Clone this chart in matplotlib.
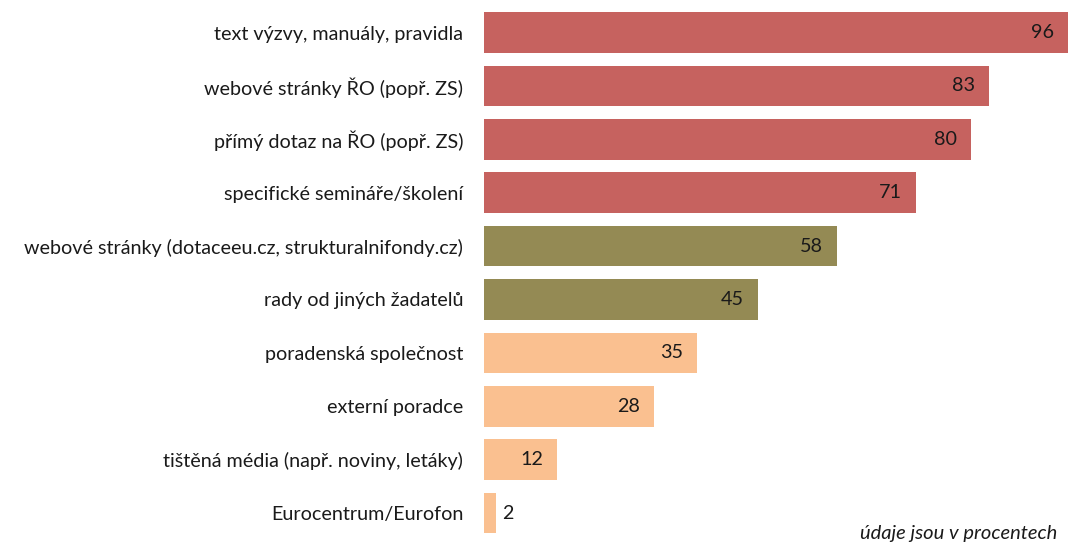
import matplotlib
matplotlib.use("Agg")
import matplotlib.pyplot as plt

categories = [
    "text výzvy, manuály, pravidla",
    "webové stránky ŘO (popř. ZS)",
    "přímý dotaz na ŘO (popř. ZS)",
    "specifické semináře/školení",
    "webové stránky (dotaceeu.cz, strukturalnifondy.cz)",
    "rady od jiných žadatelů",
    "poradenská společnost",
    "externí poradce",
    "tištěná média (např. noviny, letáky)",
    "Eurocentrum/Eurofon",
]
values = [96, 83, 80, 71, 58, 45, 35, 28, 12, 2]
groups = ["red", "red", "red", "red", "olive", "olive", "peach", "peach", "peach", "peach"]
group_colors = {"red": "#C6625F", "olive": "#948A54", "peach": "#FAC090"}
note = "údaje jsou v procentech"

plt.rcParams["font.family"] = ["Lato", "DejaVu Sans"]

fig = plt.figure(figsize=(10.68, 5.44), dpi=100)
ax = fig.add_axes([484 / 1068, 0, 1 - 484 / 1068, 1])

ypos = list(range(len(categories)))
colors = [group_colors[g] for g in groups]
ax.barh(ypos, values, height=0.76, color=colors)

ax.set_xlim(0, 96)
ax.set_ylim(9.58, -0.61)
ax.set_yticks(ypos)
ax.set_yticklabels(categories, fontsize=14.2, color="#1a1a1a")
ax.tick_params(axis="y", length=0, pad=15)
ax.set_xticks([])
for s in ax.spines.values():
    s.set_visible(False)

for y, v in zip(ypos, values):
    if v >= 8:
        ax.annotate(str(v), xy=(v, y), xytext=(-10, 0), textcoords="offset points",
                    ha="right", va="center", fontsize=14.2, color="#1a1a1a")
    else:
        ax.annotate(str(v), xy=(v, y), xytext=(4, 0), textcoords="offset points",
                    ha="left", va="center", fontsize=14.2, color="#1a1a1a")

fig.text(1057 / 1068, 1 - 525 / 544, note, ha="right", va="top", fontsize=14.5,
         style="italic", color="#1a1a1a")

fig.savefig("out.png", dpi=100)
